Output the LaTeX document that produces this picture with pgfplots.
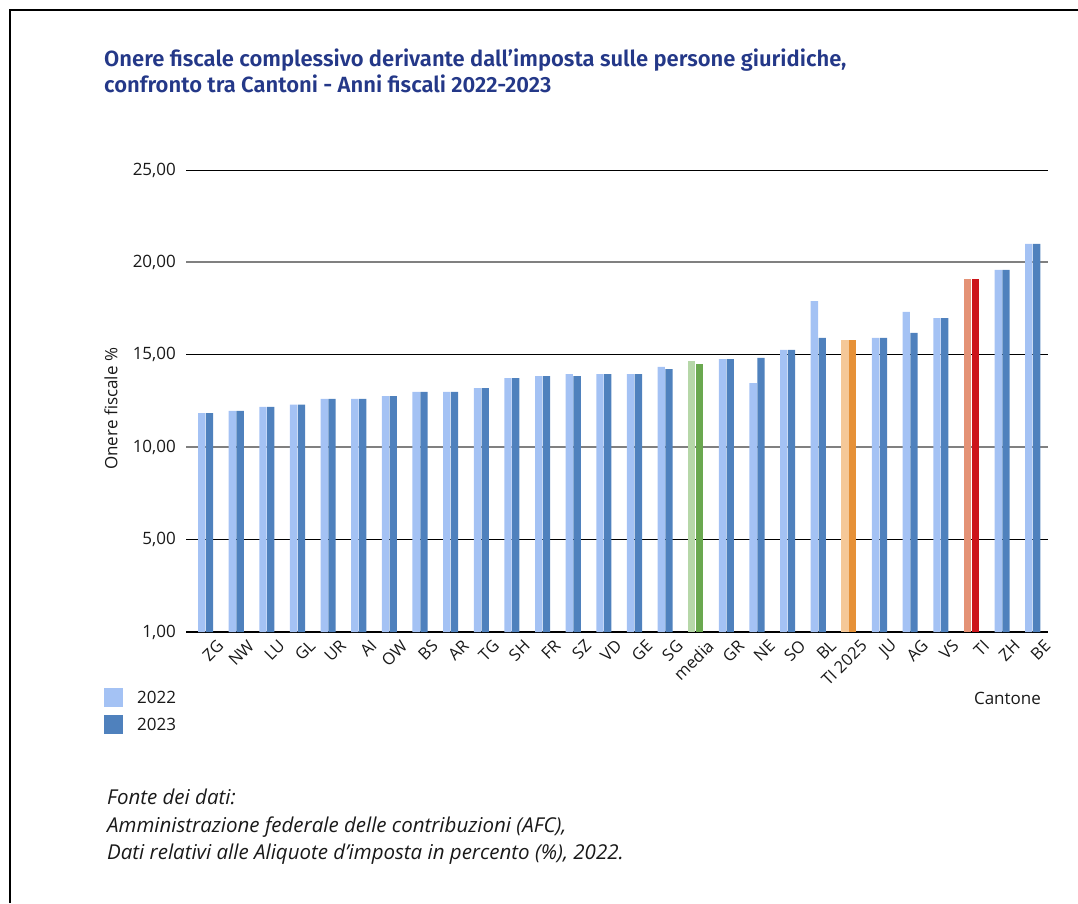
\documentclass[border=0pt]{standalone}
\usepackage{fontspec}
\setmainfont{Open Sans}
\newfontfamily\titlefont{Fira Sans SemiBold}
\usepackage{pgfplots}
\pgfplotsset{compat=1.18}
\definecolor{lb}{RGB}{164,194,244}
\definecolor{db}{RGB}{79,129,189}
\definecolor{lg}{RGB}{182,215,168}
\definecolor{dg}{RGB}{106,168,79}
\definecolor{lo}{RGB}{245,200,152}
\definecolor{do}{RGB}{230,145,56}
\definecolor{lr}{RGB}{228,146,118}
\definecolor{dr}{RGB}{204,20,26}
\definecolor{titleblue}{RGB}{36,56,136}
\definecolor{txt}{RGB}{25,25,25}
\begin{document}
\begin{tikzpicture}[x=1pt,y=1pt]
\path[use as bounding box] (0,0) rectangle (1078,903);
\draw[line width=1.3pt] (10,0) -- (10,893) -- (1078,893);
\node[anchor=base west, inner sep=0pt, text=titleblue, font=\titlefont\fontsize{22}{25}\selectfont] at (104,836) {Onere fiscale complessivo derivante dall’imposta sulle persone giuridiche,};
\node[anchor=base west, inner sep=0pt, text=titleblue, font=\titlefont\fontsize{22}{25}\selectfont] at (104,810.5) {confronto tra Cantoni - Anni fiscali 2022-2023};
\begin{axis}[
  at={(186pt,271pt)}, anchor=south west, scale only axis,
  width=862pt, height=462pt,
  xmin=-0.64, xmax=27.5, ymin=0, ymax=25,
  axis x line=bottom, axis y line=left,
  x axis line style={line width=2.4pt, -, black},
  y axis line style={draw=none},
  major tick length=0pt,
  xtick={0,...,27},
  xticklabels={ZG,NW,LU,GL,UR,AI,OW,BS,AR,TG,SH,FR,SZ,VD,GE,SG,media,GR,NE,SO,BL,TI 2025,JU,AG,VS,TI,ZH,BE},
  xticklabel style={xshift=15pt, yshift=-11pt, rotate=45, anchor=east, inner sep=0pt, text=txt, font=\fontsize{16.5}{16.5}\selectfont},
  ytick={0,5,15,25},
  yticklabels={{1,00},{5,00},{15,00},{25,00}},
  extra y ticks={10,20},
  extra y tick labels={{10,00},{20,00}},
  ymajorgrids,
  major grid style={black, line width=0.9pt},
  extra y tick style={major grid style={color=gray, line width=1.8pt}},
  yticklabel style={anchor=east, inner sep=0pt, xshift=-10pt, text=txt, font=\fontsize{17}{17}\selectfont},
  ylabel={Onere fiscale \%},
  every axis y label/.style={at={(axis description cs:-0.087,0.483)}, rotate=90, anchor=center, inner sep=0pt, text=txt, font=\fontsize{17}{17}\selectfont},
  xlabel={Cantone},
  every axis x label/.style={at={(axis description cs:0.992,-0.1429)}, anchor=east, inner sep=0pt, text=txt, font=\fontsize{17}{17}\selectfont},
  legend image code/.code={\fill[#1] (0pt,-9.5pt) rectangle (19pt,9.5pt);},
  legend style={at={(axis description cs:-0.0951,-0.1212)}, anchor=north west, draw=none, fill=none, inner sep=0pt, row sep=8pt, font=\fontsize{17}{17}\selectfont, nodes={inner sep=0pt, text=txt}, /tikz/every odd column/.append style={column sep=14pt}},
  legend cell align=left,
]
\addplot[ybar, bar width=7.3pt, bar shift=-3.9pt, fill=lb, draw=none] coordinates {
(0,11.85) (1,11.97) (2,12.18) (3,12.30) (4,12.62) (5,12.62) (6,12.77) (7,13.00) (8,13.00) (9,13.20)
(10,13.74) (11,13.85) (12,13.96) (13,13.96) (14,13.96) (15,14.34) (17,14.77) (18,13.47) (19,15.26)
(20,17.91) (22,15.91) (23,17.32) (24,16.99) (26,19.59) (27,21.00)};
\addlegendentry{2022}
\addplot[ybar, bar width=7.3pt, bar shift=3.9pt, fill=db, draw=none] coordinates {
(0,11.85) (1,11.97) (2,12.18) (3,12.30) (4,12.62) (5,12.62) (6,12.77) (7,13.00) (8,13.00) (9,13.20)
(10,13.74) (11,13.85) (12,13.85) (13,13.96) (14,13.96) (15,14.23) (17,14.77) (18,14.83) (19,15.26)
(20,15.91) (22,15.91) (23,16.18) (24,16.99) (26,19.59) (27,21.00)};
\addlegendentry{2023}
\addplot[ybar, bar width=7.3pt, bar shift=-3.9pt, fill=lg, draw=none, forget plot] coordinates {(16,14.66)};
\addplot[ybar, bar width=7.3pt, bar shift=3.9pt, fill=dg, draw=none, forget plot] coordinates {(16,14.50)};
\addplot[ybar, bar width=7.3pt, bar shift=-3.9pt, fill=lo, draw=none, forget plot] coordinates {(21,15.80)};
\addplot[ybar, bar width=7.3pt, bar shift=3.9pt, fill=do, draw=none, forget plot] coordinates {(21,15.80)};
\addplot[ybar, bar width=7.3pt, bar shift=-3.9pt, fill=lr, draw=none, forget plot] coordinates {(25,19.10)};
\addplot[ybar, bar width=7.3pt, bar shift=3.9pt, fill=dr, draw=none, forget plot] coordinates {(25,19.10)};
\end{axis}
\node[anchor=base west, inner sep=0pt, text=txt, font=\itshape\fontsize{20.5}{20.5}\selectfont] at (107,99) {Fonte dei dati:};
\node[anchor=base west, inner sep=0pt, text=txt, font=\itshape\fontsize{20.5}{20.5}\selectfont] at (107,71) {Amministrazione federale delle contribuzioni (AFC),};
\node[anchor=base west, inner sep=0pt, text=txt, font=\itshape\fontsize{20.5}{20.5}\selectfont] at (107,44) {Dati relativi alle Aliquote d’imposta in percento (\%), 2022.};
\end{tikzpicture}
\end{document}
